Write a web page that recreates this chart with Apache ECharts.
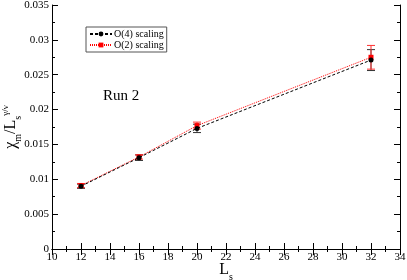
<!DOCTYPE html>
<html><head><meta charset="utf-8">
<script src="https://cdn.jsdelivr.net/npm/echarts@6/dist/echarts.min.js"></script>
<style>html,body{margin:0;padding:0;background:#fff}#c{width:407px;height:280px}</style>
</head><body><div id="c"></div>
<script>
const sizes = [12, 16, 20, 32];
const o4Values = [0.0090, 0.0131, 0.0173, 0.0271];
const o4Errors = [0.0003, 0.0004, 0.0006, 0.0015];
const o2Values = [0.0091, 0.0132, 0.0177, 0.0275];
const o2Errors = [0.0003, 0.0003, 0.0005, 0.0017];
const seriesNames = ['O(4) scaling', 'O(2) scaling'];

const FONT = "'Liberation Serif','Times New Roman',serif";
const chart = echarts.init(document.getElementById('c'), null, {renderer: 'canvas'});

function pts(v) { return sizes.map((x, i) => [x, v[i]]); }
function errData(v, e) { return sizes.map((x, i) => [x, v[i] - e[i], v[i] + e[i]]); }
function errSeries(v, e, color) {
  return {
    type: 'custom', xAxisIndex: 0, yAxisIndex: 0, silent: true, z: 1,
    data: errData(v, e),
    renderItem: function (params, api) {
      const lo = api.coord([api.value(0), api.value(1)]);
      const hi = api.coord([api.value(0), api.value(2)]);
      const w = 4;
      const st = {stroke: color, lineWidth: 1};
      return {type: 'group', children: [
        {type: 'line', shape: {x1: lo[0], y1: lo[1], x2: hi[0], y2: hi[1]}, style: st},
        {type: 'line', shape: {x1: lo[0] - w, y1: lo[1], x2: lo[0] + w, y2: lo[1]}, style: st},
        {type: 'line', shape: {x1: hi[0] - w, y1: hi[1], x2: hi[0] + w, y2: hi[1]}, style: st}
      ]};
    }
  };
}

const axisLine = {show: true, lineStyle: {color: '#000', width: 1}};
const xCommon = {type: 'value', min: 10, max: 34, interval: 2, axisLine: axisLine,
  axisTick: {inside: true, length: 6, lineStyle: {color: '#000'}},
  minorTick: {show: true, splitNumber: 2, length: 3, lineStyle: {color: '#000'}},
  splitLine: {show: false}};
const yCommon = {type: 'value', min: 0, max: 0.035, interval: 0.005, axisLine: axisLine,
  axisTick: {inside: true, length: 6, lineStyle: {color: '#000'}},
  minorTick: {show: true, splitNumber: 2, length: 3, lineStyle: {color: '#000'}},
  splitLine: {show: false}};

chart.setOption({
  animation: false,
  backgroundColor: '#fff',
  grid: {left: 52, right: 7, top: 5, bottom: 31, containLabel: false, outerBoundsMode: 'none'},
  legend: {
    left: 86, top: 27, orient: 'vertical', itemGap: 1, itemWidth: 22, itemHeight: 6,
    padding: [2, 3, 2, 3], borderColor: '#555', borderWidth: 1,
    textStyle: {fontFamily: FONT, fontSize: 10, color: '#000', padding: [0, 0, 0, -3]},
    data: seriesNames
  },
  graphic: [{type: 'text', left: 103, top: 89, style: {text: 'Run 2', font: '15px ' + FONT, fill: '#000'}}],
  xAxis: [
    Object.assign({}, xCommon, {position: 'bottom',
      axisLabel: {fontFamily: FONT, fontSize: 11, color: '#000', margin: 3},
      name: '{a|L}{b|s}', nameLocation: 'middle', nameGap: 11, nameMoveOverlap: false,
      nameTextStyle: {rich: {
        a: {fontFamily: FONT, fontSize: 16, color: '#000', verticalAlign: 'bottom', lineHeight: 18},
        b: {fontFamily: FONT, fontSize: 10, color: '#000', verticalAlign: 'bottom', lineHeight: 12, padding: [0, 0, -4, 0]}
      }}}),
    Object.assign({}, xCommon, {position: 'top', axisLabel: {show: false}})
  ],
  yAxis: [
    Object.assign({}, yCommon, {position: 'left',
      axisLabel: {fontFamily: FONT, fontSize: 11, color: '#000', margin: 3,
        formatter: v => (v === 0 ? '0' : String(+v.toFixed(3)))},
      name: '{a|χ}{b|m}{a|/L}{b|s}{c|γ/ν}', nameLocation: 'middle', nameGap: 33, nameRotate: 90, nameMoveOverlap: false,
      nameTextStyle: {rich: {
        a: {fontFamily: FONT, fontSize: 16, color: '#000', lineHeight: 18, verticalAlign: 'bottom'},
        b: {fontFamily: FONT, fontSize: 10, color: '#000', verticalAlign: 'bottom', lineHeight: 12, padding: [0, 0, -4, 0]},
        c: {fontFamily: FONT, fontSize: 9, color: '#000', verticalAlign: 'top', lineHeight: 10, padding: [0, 0, 12, 0]}
      }}}),
    Object.assign({}, yCommon, {position: 'right', axisLabel: {show: false}})
  ],
  series: [
    errSeries(o4Values, o4Errors, '#333'),
    errSeries(o2Values, o2Errors, '#ff3030'),
    {name: seriesNames[0], type: 'line', data: pts(o4Values), symbol: 'circle', symbolSize: 5,
      itemStyle: {color: '#000'}, lineStyle: {color: '#000', width: 1, type: [3, 2]}, z: 3},
    {name: seriesNames[1], type: 'line', data: pts(o2Values), symbol: 'rect', symbolSize: 5,
      itemStyle: {color: '#ff0000'}, lineStyle: {color: '#ff0000', width: 1, type: [1, 1]}, z: 2}
  ]
});
</script></body></html>
